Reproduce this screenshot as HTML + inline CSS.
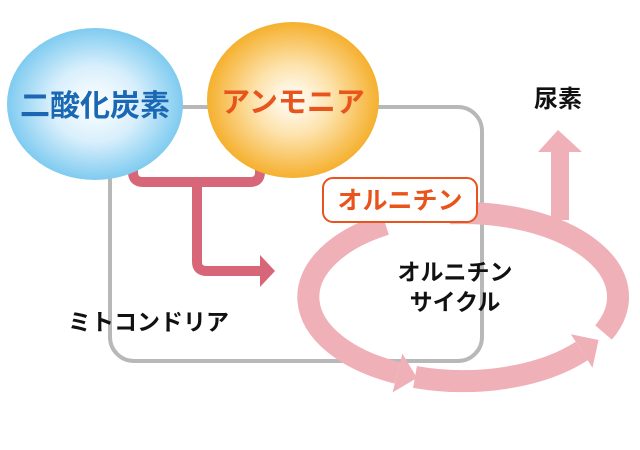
<!DOCTYPE html>
<html><head><meta charset="utf-8"><style>
body{margin:0;width:640px;height:450px;background:#fff;overflow:hidden}
svg{display:block}
text{font-family:"Liberation Sans","Noto Sans CJK JP",sans-serif;font-weight:bold}
</style></head><body>
<svg width="640" height="450" viewBox="0 0 640 450">
<defs>
<radialGradient id="gb" cx="50%" cy="50%" r="50%"><stop offset="0" stop-color="#ffffff"/><stop offset="0.5" stop-color="#d8effc"/><stop offset="1" stop-color="#7fcbf0"/></radialGradient>
<radialGradient id="go" cx="50%" cy="50%" r="50%"><stop offset="0" stop-color="#ffffff"/><stop offset="0.45" stop-color="#fde3ad"/><stop offset="1" stop-color="#f5b02e"/></radialGradient>
</defs>
<rect x="110" y="107" width="372" height="254" rx="24" fill="none" stroke="#b8b8b8" stroke-width="4"/>
<g fill="none" stroke="#efb0b8" stroke-width="22">
<path d="M385.5 224.3 A155 84 0 0 0 397.5 373"/>
<path d="M415 377 A155 84 0 0 0 581.7 351"/>
<path d="M603.5 332.5 A155 84 0 0 0 449.5 213.3"/>
<path d="M560 220 L560 150" stroke-width="18"/>
</g>
<g fill="#efb0b8">
<polygon points="417,378 392.6,392.4 402.4,353.6"/>
<polygon points="598.5,340 592.5,367.8 570.9,334.2"/>
<polygon points="538,152 582,152 558,130"/>
</g>
<g fill="none" stroke="#d76678" stroke-width="10" stroke-linejoin="round">
<path d="M133 148 V172 Q133 182 143 182 H250 Q260 182 260 172 V148"/>
<path d="M197 182 V262 Q197 271 207 271 H262"/>
</g>
<polygon points="260,255 275,271 260,287" fill="#d76678"/>
<ellipse cx="95" cy="104" rx="88" ry="76" fill="url(#gb)"/>
<ellipse cx="293" cy="100" rx="86" ry="78" fill="url(#go)"/>
<text x="95" y="116" font-size="30" fill="#1a68b4" text-anchor="middle">二酸化炭素</text>
<text x="293" y="112" font-size="29" fill="#e8541c" text-anchor="middle">アンモニア</text>
<rect x="323" y="178" width="154" height="44" rx="10" fill="#fff" stroke="#e8541c" stroke-width="2"/>
<text x="400" y="209" font-size="25" fill="#e8541c" text-anchor="middle">オルニチン</text>
<text x="558" y="107" font-size="24" fill="#111" text-anchor="middle">尿素</text>
<text x="455" y="280" font-size="23" fill="#111" text-anchor="middle">オルニチン</text>
<text x="455" y="310" font-size="23" fill="#111" text-anchor="middle">サイクル</text>
<text x="68" y="330" font-size="23" fill="#111">ミトコンドリア</text>
</svg>
</body></html>
